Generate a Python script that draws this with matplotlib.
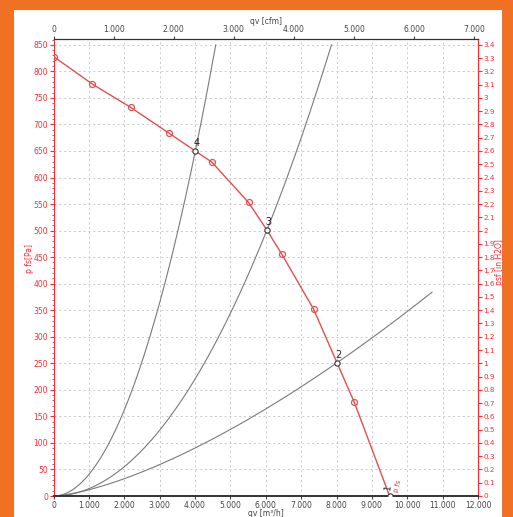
import matplotlib
matplotlib.use("Agg")
import matplotlib.pyplot as plt
import numpy as np
from matplotlib.ticker import FuncFormatter, MultipleLocator

# ---- data ----
fan_q = [0, 1100, 2185, 3277, 4010, 4477, 5513, 6033, 6458, 7353, 8014, 8500, 9500]
fan_p = [828, 776, 732, 683, 650, 629, 553, 501, 455, 352, 251, 177, 0]
marker_q = [0, 1100, 2185, 3277, 4477, 5513, 6458, 7353, 8500]
marker_p = [828, 776, 732, 683, 629, 553, 455, 352, 177]
op_labels = ["4", "3", "2", "1"]
op_q = [4010, 6033, 8014, 9500]
op_p = [650, 501, 251, 0]
# system curves: operating point and end point
sys_op_q = [4010, 6033, 8014]
sys_op_p = [650, 501, 251]
sys_end_q = [4586, 7858, 10700]
sys_end_p = [850, 850, 384]

x_ticks = [0, 1000, 2000, 3000, 4000, 5000, 6000, 7000, 8000, 9000, 10000, 11000, 12000]
y_ticks = list(range(0, 851, 50))
cfm_ticks = [0, 1000, 2000, 3000, 4000, 5000, 6000, 7000]
inh2o_ticks = [round(0.1 * i, 1) for i in range(35)]

RED = "#e8333c"
LINE_RED = "#e05050"
ORANGE = "#f07024"

fig = plt.figure(figsize=(5.13, 5.17), dpi=100)
fig.patch.set_facecolor(ORANGE)
fig.add_artist(plt.Rectangle((14 / 513, 0), (502 - 14) / 513, (517 - 10) / 517,
                             transform=fig.transFigure, facecolor="white",
                             edgecolor="none", zorder=0))

ax = fig.add_axes([53.5 / 513, (517 - 496) / 517, (478 - 53.5) / 513, (496 - 39) / 517])
ax.set_xlim(0, 12000)
ax.set_ylim(0, 861)
ax.set_facecolor("white")

ax.set_xticks(x_ticks)
ax.set_yticks(y_ticks)
ax.grid(True, color="#c8c8c8", linestyle=(0, (2, 3)), linewidth=0.7)
ax.set_axisbelow(True)

# system curves p = p_op * (q/q_op)^n, n from the two read points
for qo, po, qe, pe in zip(sys_op_q, sys_op_p, sys_end_q, sys_end_p):
    n = np.log(pe / po) / np.log(qe / qo)
    q = np.linspace(0, qe, 200)
    ax.plot(q, po * (q / qo) ** n, color="#7a7a7a", linewidth=0.8, zorder=2)

# fan curve
ax.plot(fan_q, fan_p, color=LINE_RED, linewidth=1.0, zorder=3)
ax.plot(marker_q, marker_p, linestyle="none", marker="o", markersize=4.3,
        markerfacecolor="none", markeredgecolor=LINE_RED, markeredgewidth=0.9, zorder=4)

# operating points
for lab, q, p in zip(op_labels, op_q, op_p):
    ax.plot([q], [p], marker="o", markersize=3.8, markerfacecolor="white",
            markeredgecolor="#333333", markeredgewidth=0.8, zorder=5)
    if lab != "1":
        ax.text(q + 30, p + 6, lab, fontsize=7, color="#222222", ha="center", va="bottom", zorder=6)
    else:
        ax.text(q - 30, p + 8, lab, fontsize=6, color="#222222", ha="center", va="bottom",
                rotation=80, zorder=6)
ax.text(9720, 5, "p fs", fontsize=5, color=RED, rotation=75, ha="center", va="bottom", zorder=6)

ax.spines["left"].set_color(RED)
ax.spines["right"].set_color(RED)
ax.spines["top"].set_color("#333333")
ax.spines["bottom"].set_color("#333333")
ax.spines["bottom"].set_linewidth(1.4)

fmt_thousands = FuncFormatter(lambda v, p: f"{int(round(v)):,}".replace(",", "."))
ax.xaxis.set_major_formatter(fmt_thousands)
ax.tick_params(axis="x", labelsize=5.5, colors="#444444", length=2, pad=1.5)
ax.tick_params(axis="y", labelsize=5.5, colors=RED, length=3, pad=1)
ax.yaxis.set_minor_locator(MultipleLocator(10))
ax.tick_params(axis="y", which="minor", colors=RED, length=1.5)
ax.set_xlabel("qv [m³/h]", fontsize=5.5, color="#444444")
ax.xaxis.set_label_coords(0.5, -0.029)
ax.set_ylabel("p fs[Pa]", fontsize=5.5, color=RED)
ax.yaxis.set_label_coords(-0.047, 0.52)

top = ax.secondary_xaxis("top", functions=(lambda x: x / 1.699, lambda x: x * 1.699))
top.set_xticks(cfm_ticks)
top.xaxis.set_major_formatter(fmt_thousands)
top.tick_params(labelsize=5.5, colors="#444444", length=2, pad=1.5)
top.set_xlabel("qv [cfm]", fontsize=5.5, color="#444444", labelpad=0.5)

right = ax.secondary_yaxis("right", functions=(lambda y: y / 250.0, lambda y: y * 250.0))
right.set_yticks(inh2o_ticks)
right.yaxis.set_major_formatter(FuncFormatter(lambda v, p: f"{v:g}"))
right.tick_params(labelsize=5.2, colors=RED, length=3, pad=1)
right.spines["right"].set_color(RED)
fig.text(499 / 513, 1 - 262 / 517, "psf [in H2O]", fontsize=5.5, color=RED,
         rotation=90, ha="center", va="center")

fig.savefig("out.png", dpi=100, facecolor=fig.get_facecolor())
